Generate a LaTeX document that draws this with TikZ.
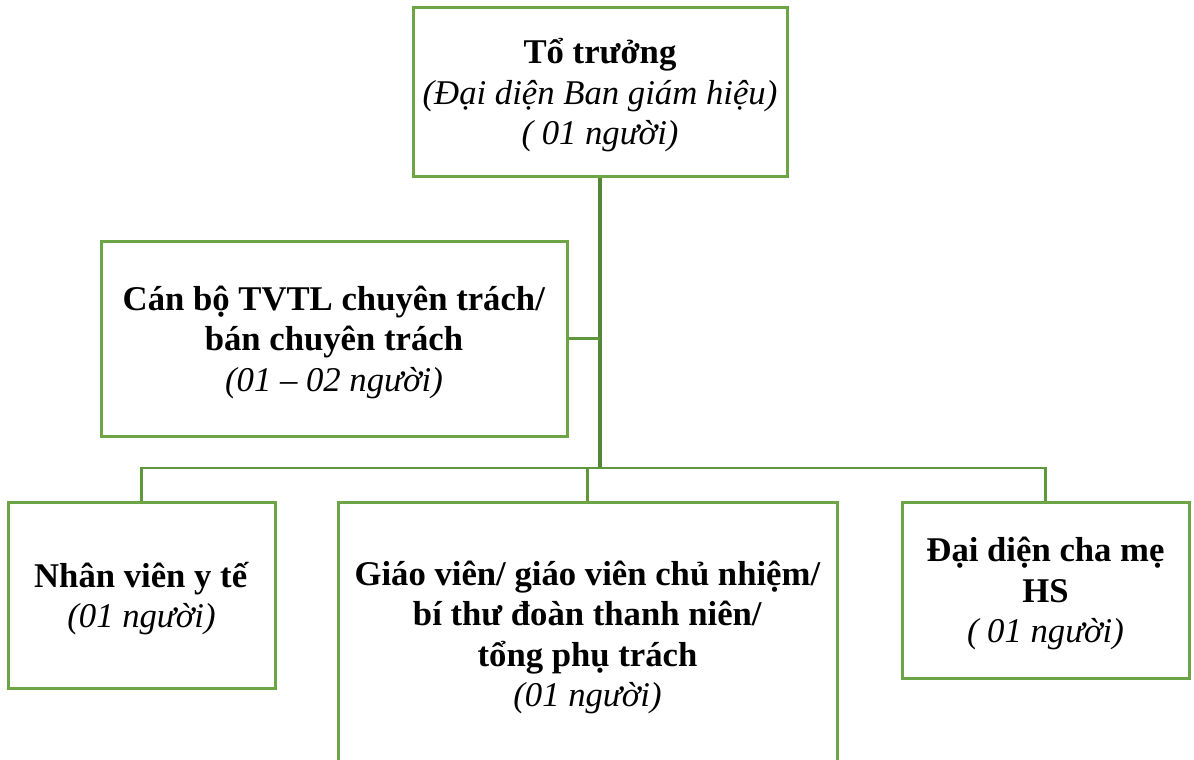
\documentclass[tikz,border=0pt]{standalone}
\usepackage{fontspec}
\setmainfont{Liberation Serif}
\definecolor{boxgreen}{RGB}{108,164,70}
\definecolor{linegreen}{RGB}{96,150,60}
\definecolor{trunkgreen}{RGB}{84,136,52}
\begin{document}
\begin{tikzpicture}[x=1pt,y=-1pt,
  orgbox/.style={draw=boxgreen, line width=3pt, fill=white, inner sep=0pt},
  boxtext/.style={align=center, inner sep=0pt, yshift=-3.5pt,
    font=\fontsize{34.7}{40.5}\selectfont},
  link/.style={draw=linegreen, line width=2.6pt},
  trunk/.style={draw=trunkgreen, line width=3.2pt}]
\useasboundingbox (0,0) rectangle (1194,760);
\fill[white] (0,0) rectangle (1194,760);

% boxes
\node[orgbox, minimum width=374pt, minimum height=168pt] (top) at (600,92) {};
\node[orgbox, minimum width=466pt, minimum height=195pt] (tvtl) at (334,338.5) {};
\node[orgbox, minimum width=267pt, minimum height=186pt] (yte) at (141.5,595) {};
\node[orgbox, minimum width=499pt, minimum height=264pt] (gv) at (587.5,634) {};
\node[orgbox, minimum width=287pt, minimum height=176pt] (cm) at (1045.5,590) {};

% box texts
\node[boxtext] (toplabel) at (top.center)
  {\textbf{Tổ trưởng}\\\textit{(Đại diện Ban giám hiệu)}\\\textit{( 01 người)}};
\node[boxtext] (tvtllabel) at (tvtl.center)
  {\textbf{Cán bộ TVTL chuyên trách/}\\\textbf{bán chuyên trách}\\\textit{(01 – 02 người)}};
\node[boxtext] (ytelabel) at (yte.center)
  {\textbf{Nhân viên y tế}\\\textit{(01 người)}};
\node[boxtext] (gvlabel) at (gv.center)
  {\textbf{Giáo viên/ giáo viên chủ nhiệm/}\\\textbf{bí thư đoàn thanh niên/}\\\textbf{tổng phụ trách}\\\textit{(01 người)}};
\node[boxtext] (cmlabel) at (cm.center)
  {\textbf{Đại diện cha mẹ}\\\textbf{HS}\\\textit{( 01 người)}};

% connectors
\coordinate (bus) at (600,468);
\draw[trunk] (top.south) -- (bus);
\draw[link] (tvtl.east) -- (tvtl.east -| bus);
\draw[link] (yte.north) |- (bus) -| (cm.north);
\draw[link] (gv.north) -- (gv.north |- bus);
\end{tikzpicture}
\end{document}
